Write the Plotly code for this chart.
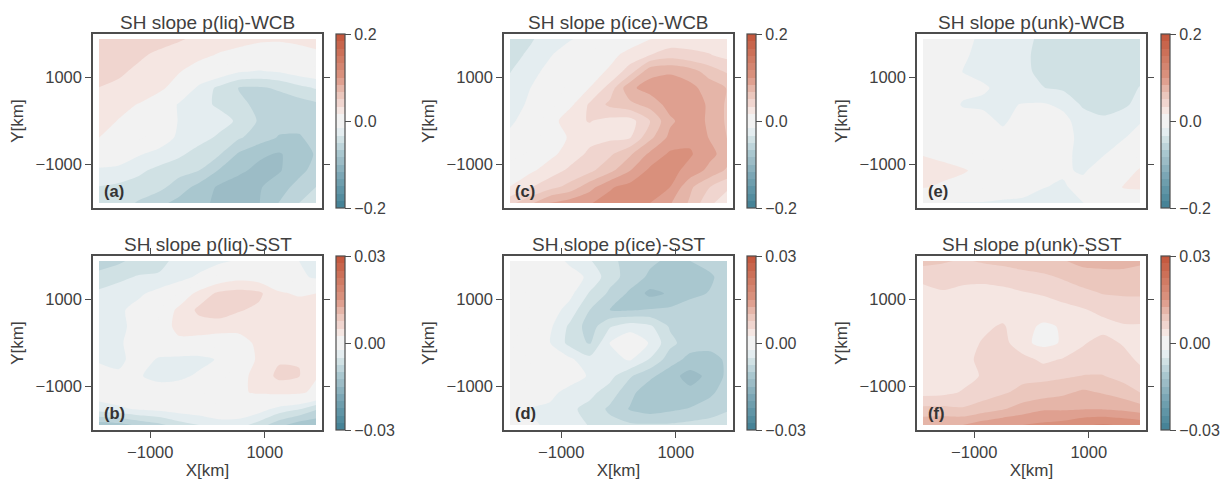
import plotly.graph_objects as go

# grid of the fields, km
x_km = [-1895.2, -1550, -1200, -850, -500, -150, 200, 550, 900, 1250, 1600, 1895.2]
y_km = [1885.06, 1520, 1140, 760, 380, 0, -380, -760, -1140, -1520, -1885.06]

liq_wcb = [
    [.042, .042, .042, .040, .035, .030, .027, .024, .020, .019, .022, .025],
    [.042, .042, .036, .030, .026, .022, .015, .010, .006, .006, .008, .012],
    [.040, .036, .030, .024, .018, .007, -.004, -.015, -.018, -.015, -.008, -.004],
    [.033, .030, .026, .021, .008, -.022, -.037, -.051, -.052, -.048, -.038, -.032],
    [.026, .021, .016, .005, -.019, -.028, -.036, -.046, -.054, -.058, -.058, -.053],
    [.022, .016, .010, .002, -.018, -.022, -.027, -.036, -.052, -.060, -.062, -.062],
    [.017, .010, .002, -.006, -.020, -.027, -.036, -.048, -.058, -.068, -.068, -.062],
    [.000, -.005, -.015, -.022, -.030, -.040, -.048, -.069, -.080, -.085, -.075, -.065],
    [-.020, -.022, -.030, -.038, -.044, -.050, -.068, -.080, -.088, -.085, -.072, -.060],
    [-.034, -.037, -.040, -.045, -.058, -.072, -.086, -.092, -.085, -.075, -.060, -.050],
    [-.036, -.042, -.052, -.062, -.072, -.080, -.086, -.088, -.084, -.066, -.050, -.042],
]
ice_wcb = [
    [-.040, -.036, -.024, -.018, -.010, -.005, .008, .016, .022, .028, .025, .022],
    [-.040, -.030, -.018, -.008, .004, .012, .022, .033, .042, .036, .034, .028],
    [-.034, -.022, -.012, -.002, .010, .019, .042, .078, .081, .075, .058, .048],
    [-.028, -.017, -.008, .003, .017, .040, .080, .090, .093, .088, .076, .066],
    [-.024, -.014, -.005, .012, .036, .054, .062, .073, .090, .094, .080, .064],
    [-.020, -.008, .006, .030, .034, .028, .026, .050, .080, .093, .080, .064],
    [-.012, -.004, .004, .019, .028, .030, .032, .062, .088, .096, .082, .066],
    [-.006, .002, .012, .024, .037, .047, .064, .087, .103, .102, .088, .076],
    [.008, .013, .025, .037, .046, .062, .083, .104, .106, .094, .078, .064],
    [.017, .032, .044, .056, .077, .098, .106, .108, .100, .070, .050, .036],
    [.045, .062, .085, .092, .099, .106, .108, .100, .085, .064, .036, .025],
]
unk_wcb = [
    [-.006, -.008, -.012, -.020, -.025, -.030, -.036, -.038, -.040, -.040, -.040, -.040],
    [-.006, -.009, -.014, -.022, -.026, -.029, -.040, -.040, -.042, -.042, -.040, -.040],
    [-.005, -.008, -.017, -.020, -.024, -.031, -.036, -.040, -.042, -.042, -.040, -.036],
    [-.004, -.007, -.012, -.015, -.020, -.028, -.033, -.036, -.040, -.040, -.036, -.033],
    [-.004, -.007, -.018, -.019, -.019, -.016, -.015, -.020, -.036, -.040, -.036, -.029],
    [-.004, -.007, -.010, -.012, -.019, -.010, -.008, -.012, -.024, -.030, -.026, -.018],
    [-.002, -.004, -.006, -.009, -.012, -.006, -.004, -.010, -.022, -.024, -.018, -.010],
    [.016, .012, .004, -.004, -.006, -.005, -.006, -.012, -.022, -.018, -.008, -.002],
    [.022, .022, .019, .010, .000, -.005, -.007, -.014, -.019, -.008, .002, .020],
    [.018, .014, .008, .002, -.004, -.006, -.016, -.019, -.010, -.004, .018, .020],
    [-.006, -.016, -.018, -.018, -.020, -.022, -.024, -.024, -.017, -.006, -.002, -.002],
]
liq_sst = [
    [-.0090, -.0080, -.0065, -.0055, -.0045, -.0040, -.0032, -.0020, -.0015, -.0018, -.0025, -.0040],
    [-.0065, -.0055, -.0048, -.0048, -.0035, -.0020, .0005, .0015, .0010, .0004, -.0018, -.0030],
    [-.0045, -.0040, -.0030, -.0015, .0000, .0035, .0055, .0060, .0055, .0028, .0022, .0025],
    [-.0040, -.0030, -.0015, -.0002, .0032, .0055, .0065, .0052, .0045, .0040, .0038, .0036],
    [-.0040, -.0032, -.0015, .0000, .0038, .0040, .0036, .0035, .0040, .0042, .0042, .0040],
    [-.0035, -.0028, -.0015, -.0005, .0015, .0012, .0010, .0012, .0032, .0042, .0044, .0042],
    [-.0028, -.0032, -.0012, -.0028, -.0034, -.0035, -.0022, .0005, .0030, .0047, .0049, .0038],
    [-.0015, -.0020, -.0022, -.0036, -.0032, -.0020, -.0010, .0016, .0035, .0056, .0051, .0027],
    [-.0010, -.0007, -.0002, -.0006, -.0006, -.0003, .0008, .0022, .0028, .0032, .0030, .0018],
    [-.0038, -.0030, -.0022, -.0018, -.0012, -.0008, -.0002, -.0002, -.0012, -.0035, -.0048, -.0072],
    [-.0115, -.0110, -.0095, -.0082, -.0062, -.0050, -.0038, -.0040, -.0062, -.0092, -.0115, -.0120],
]
ice_sst = [
    [-.0005, -.0005, -.0010, -.0030, -.0048, -.0068, -.0085, -.0095, -.0105, -.0100, -.0088, -.0080],
    [-.0005, -.0005, -.0005, -.0014, -.0030, -.0065, -.0085, -.0105, -.0115, -.0115, -.0105, -.0085],
    [.0000, .0000, -.0010, -.0018, -.0053, -.0080, -.0105, -.0132, -.0122, -.0108, -.0098, -.0085],
    [.0000, .0000, -.0012, -.0035, -.0075, -.0100, -.0102, -.0098, -.0095, -.0085, -.0082, -.0080],
    [.0000, .0000, -.0020, -.0055, -.0088, -.0052, -.0036, -.0045, -.0078, -.0085, -.0085, -.0080],
    [.0000, -.0003, -.0024, -.0058, -.0078, -.0024, -.0005, -.0027, -.0068, -.0088, -.0088, -.0085],
    [.0000, .0000, -.0010, -.0020, -.0042, -.0035, -.0022, -.0052, -.0088, -.0108, -.0112, -.0095],
    [.0000, .0000, -.0005, -.0012, -.0028, -.0042, -.0072, -.0094, -.0115, -.0135, -.0118, -.0095],
    [.0000, -.0005, -.0018, -.0034, -.0043, -.0062, -.0092, -.0118, -.0118, -.0118, -.0105, -.0088],
    [-.0012, -.0025, -.0030, -.0045, -.0058, -.0080, -.0102, -.0112, -.0105, -.0098, -.0088, -.0078],
    [-.0012, -.0022, -.0028, -.0043, -.0051, -.0066, -.0071, -.0072, -.0072, -.0068, -.0065, -.0060],
]
unk_sst = [
    [.0085, .0078, .0072, .0078, .0082, .0088, .0092, .0098, .0108, .0105, .0105, .0102],
    [.0054, .0058, .0055, .0056, .0060, .0065, .0070, .0078, .0088, .0095, .0095, .0095],
    [.0045, .0048, .0045, .0042, .0043, .0048, .0052, .0060, .0068, .0076, .0078, .0078],
    [.0032, .0028, .0036, .0038, .0038, .0040, .0038, .0042, .0048, .0056, .0060, .0062],
    [.0030, .0032, .0038, .0045, .0053, .0033, .0021, .0027, .0038, .0042, .0048, .0048],
    [.0030, .0034, .0040, .0052, .0060, .0030, .0019, .0027, .0048, .0058, .0048, .0042],
    [.0032, .0036, .0044, .0055, .0064, .0060, .0044, .0052, .0058, .0062, .0058, .0046],
    [.0036, .0038, .0042, .0052, .0062, .0068, .0068, .0071, .0076, .0076, .0066, .0058],
    [.0042, .0044, .0052, .0062, .0072, .0082, .0088, .0095, .0105, .0098, .0088, .0075],
    [.0082, .0082, .0078, .0088, .0098, .0112, .0122, .0122, .0124, .0124, .0120, .0112],
    [.0120, .0122, .0125, .0138, .0148, .0150, .0155, .0160, .0172, .0178, .0172, .0168],
]

titles = ["SH slope p(liq)-WCB", "SH slope p(ice)-WCB", "SH slope p(unk)-WCB",
          "SH slope p(liq)-SST", "SH slope p(ice)-SST", "SH slope p(unk)-SST"]
letters = ["(a)", "(c)", "(e)", "(b)", "(d)", "(f)"]
fields = [liq_wcb, ice_wcb, unk_wcb, liq_sst, ice_sst, unk_sst]
limits = [0.2, 0.2, 0.2, 0.03, 0.03, 0.03]
tick_formats = [".1f", ".1f", ".1f", ".2f", ".2f", ".2f"]

# colours, per band away from the middle
cmap = [
    [0, "#3f7f93"], [0.2, "#7fa9b7"], [0.271, "#9cbcc6"], [0.3125, "#a9c7cf"], [0.354, "#bdd4da"],
    [0.396, "#d0e1e4"], [0.4375, "#e4edf0"], [0.479, "#f2f2f2"], [0.521, "#f2f2f2"],
    [0.5625, "#f5e6e2"], [0.604, "#f0d5cf"], [0.646, "#ebc7bd"], [0.6875, "#e5b5a8"],
    [0.729, "#dfa090"], [0.771, "#d9907c"], [0.85, "#d07c65"], [1, "#c3553a"],
]
W, H = 1224, 481
lefts = [93, 504, 917]
cbar_lefts = [336, 747, 1161]
tops = [34, 256]
pw, ph = 229, 174
text_col = "#404040"
frame_col = "#4d4d4d"

fig = go.Figure()
notes = []
for i in range(6):
    n = i + 1
    row, col = i // 3, i % 3
    lim = limits[i]
    left, top = lefts[col], tops[row]
    fig.add_trace(go.Contour(
        x=x_km, y=y_km, z=fields[i], xaxis=f"x{n}", yaxis=f"y{n}",
        zmin=-lim, zmax=lim, colorscale=cmap, autocontour=False,
        contours=dict(start=-lim, end=lim + 1e-9, size=2 * lim / 24, coloring="fill", showlines=False),
        line=dict(width=0, smoothing=0.7), hoverinfo="skip",
        colorbar=dict(
            x=cbar_lefts[col] / W, xanchor="left", xpad=0,
            y=1 - (top + ph / 2) / H, yanchor="middle", ypad=0,
            len=ph / H, lenmode="fraction", thickness=9, thicknessmode="pixels",
            outlinecolor=frame_col, outlinewidth=1.2,
            ticks="outside", ticklen=6, tickwidth=1, tickcolor=frame_col,
            tickvals=[-lim, 0, lim], tickformat=tick_formats[i],
            tickfont=dict(size=16, color=text_col),
        ),
    ))
    axis = dict(range=[-2000, 2000], tickvals=[-1000, 1000], showgrid=False, zeroline=False,
                showline=True, mirror="allticks", linecolor=frame_col, linewidth=1.5,
                ticks="outside", ticklen=6, tickwidth=1, tickcolor=frame_col,
                tickfont=dict(size=16.5, color=text_col), tickformat="d")
    xa = dict(axis, domain=[left / W, (left + pw) / W], anchor=f"y{n}")
    ya = dict(axis, domain=[1 - (top + ph) / H, 1 - top / H], anchor=f"x{n}",
              title=dict(text="Y[km]", font=dict(size=17, color=text_col), standoff=8))
    if row == 0:
        xa.update(showticklabels=False, ticks="", mirror=True)
    else:
        xa.update(title=dict(text="X[km]", font=dict(size=17, color=text_col), standoff=5))
    fig.update_layout(**{f"xaxis{n}": xa, f"yaxis{n}": ya})
    notes.append(dict(text=titles[i], x=(left + pw / 2) / W, y=1 - (top - 12) / H, xref="paper", yref="paper",
                      showarrow=False, font=dict(size=19, color=text_col), xanchor="center", yanchor="middle"))
    notes.append(dict(text=f"<b>{letters[i]}</b>", x=(left + 9) / W, y=1 - (top + 157) / H, xref="paper", yref="paper",
                      showarrow=False, font=dict(size=16.5, color="#333333"), xanchor="left", yanchor="middle"))

fig.update_layout(width=W, height=H, margin=dict(l=0, r=0, t=0, b=0), showlegend=False,
                  paper_bgcolor="white", plot_bgcolor="white",
                  font=dict(family="Liberation Sans, Arial, sans-serif", color=text_col),
                  annotations=notes)
fig.write_html("out.html", config={"displayModeBar": False}, post_script="document.body.style.margin='0';")
